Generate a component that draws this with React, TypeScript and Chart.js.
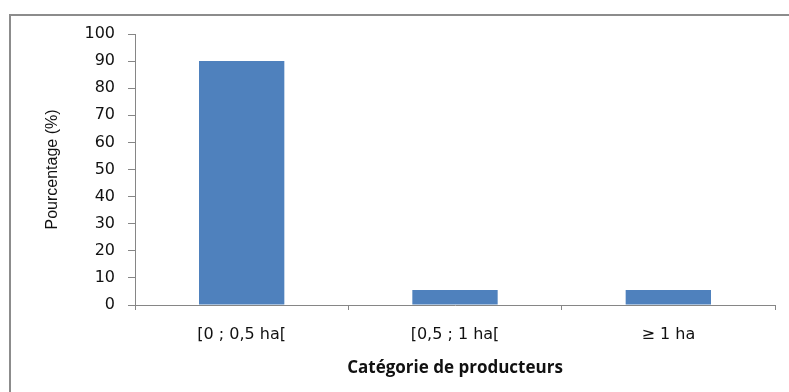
import React, { useEffect, useRef } from "react";
import { Chart, registerables } from "chart.js";

Chart.register(...registerables);

const categories = ["[0 ; 0,5 ha[", "[0,5 ; 1 ha[", "≥ 1 ha"];
const values = [90, 5.5, 5.5];
const yTitle = "Pourcentage (%)";
const xTitle = "Catégorie de producteurs";

const framePlugin = {
  id: "frame",
  beforeDraw(chart: any) {
    const ctx = chart.ctx;
    ctx.save();
    ctx.fillStyle = "#ffffff";
    ctx.fillRect(0, 0, chart.width, chart.height);
    ctx.strokeStyle = "#8c8c8c";
    ctx.lineWidth = 2;
    ctx.strokeRect(10, 15, 800, 400);
    ctx.restore();
  },
};

export default function App() {
  const ref = useRef<HTMLCanvasElement>(null);
  useEffect(() => {
    document.body.style.margin = "0";
    const chart = new Chart(ref.current!, {
      type: "bar",
      data: {
        labels: categories,
        datasets: [
          {
            data: values,
            backgroundColor: "#4F81BD",
            borderWidth: 0,
            categoryPercentage: 1,
            barPercentage: 0.4,
          },
        ],
      },
      options: {
        responsive: false,
        animation: false,
        layout: { padding: { left: 0, top: 34, right: 14, bottom: 0 } },
        plugins: { legend: { display: false }, tooltip: { enabled: false } },
        scales: {
          x: {
            grid: {
              offset: true,
              drawOnChartArea: false,
              tickLength: 5,
              color: "#868686",
            },
            border: { color: "#868686", width: 1 },
            ticks: {
              color: "#111",
              padding: 15,
              font: { family: "DejaVu Sans", size: 16 },
            },
            title: {
              display: true,
              text: xTitle,
              color: "#111",
              font: { family: "Open Sans", size: 17, weight: "bold" },
              padding: { top: 0, bottom: 14 },
            },
            afterFit(scale: any) {
              scale.height = 87;
            },
          },
          y: {
            min: 0,
            max: 100,
            grid: {
              drawOnChartArea: false,
              tickLength: 7,
              color: "#868686",
            },
            border: { color: "#868686", width: 1 },
            ticks: {
              stepSize: 10,
              color: "#111",
              padding: 13,
              font: { family: "DejaVu Sans", size: 16 },
            },
            title: {
              display: true,
              text: yTitle,
              color: "#111",
              font: { family: "Liberation Sans", size: 16 },
              padding: { top: 43, bottom: 0 },
            },
            afterFit(scale: any) {
              scale.width = 135;
            },
          },
        },
      },
      plugins: [framePlugin],
    });
    return () => chart.destroy();
  }, []);
  return (
    <div style={{ position: "absolute", left: 0, top: 0, width: 789, height: 392 }}>
      <canvas ref={ref} width={789} height={392} />
    </div>
  );
}
